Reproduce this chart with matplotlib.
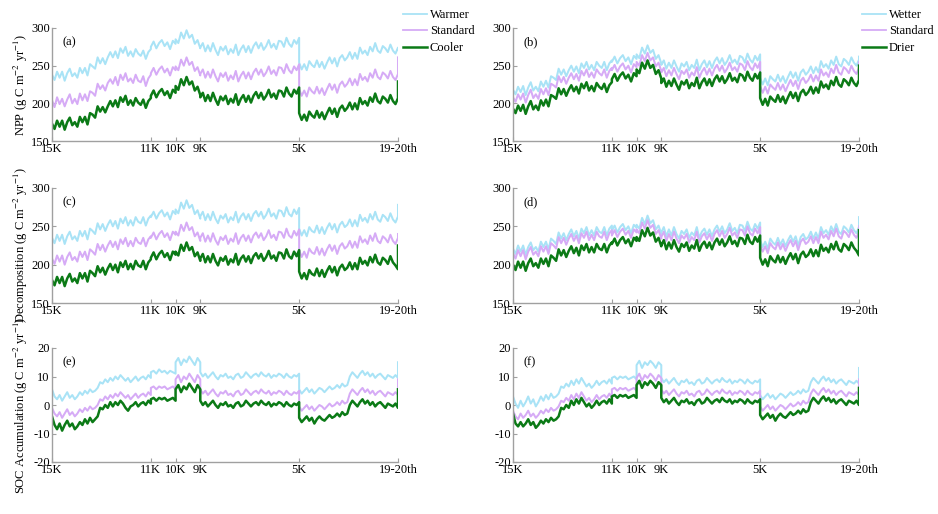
import numpy as np
import matplotlib
matplotlib.use("Agg")
import matplotlib.pyplot as plt
from matplotlib.lines import Line2D

plt.rcParams['font.family'] = ['Liberation Serif', 'DejaVu Serif']
plt.rcParams['mathtext.fontset'] = 'stix'
plt.rcParams['axes.unicode_minus'] = False

# ---------------- x axis structure ----------------
seg_edges = [0, 4, 5, 6, 10, 14]          # 15K, 11K, 10K, 9K, 5K, 19-20th
seg_npts = [40, 10, 10, 40, 40]
tick_pos = [0, 4, 5, 6, 10, 14]
tick_labels = ['15K', '11K', '10K', '9K', '5K', '19-20th']

# ---------------- (a) NPP, temperature ----------------
npp_warmer = [238, 231, 242, 234, 242, 230, 240, 246, 236, 240, 234, 247, 240, 247, 237, 252, 249, 246, 261, 253,
              260, 252, 261, 268, 261, 269, 260, 273, 267, 275, 263, 269, 262, 272, 266, 263, 270, 259, 268, 272,
              275, 282, 273, 280, 284, 276, 281, 272, 283, 279,
              285, 280, 294, 286, 297, 287, 291, 279, 284, 273,
              274, 280, 269, 277, 269, 280, 271, 264, 275, 270, 276, 265, 272, 267, 278, 264, 272, 277, 268, 276,
              267, 276, 281, 273, 280, 271, 276, 284, 274, 279, 272, 283, 282, 275, 287, 279, 275, 284, 279, 287,
              254, 245, 252, 244, 256, 251, 248, 257, 248, 255, 246, 254, 261, 253, 260, 249, 260, 264, 257, 261,
              268, 259, 267, 259, 274, 266, 270, 264, 275, 269, 280, 270, 267, 276, 273, 268, 278, 270, 266, 274,
              272]
npp_std_t = [204, 195, 208, 199, 206, 196, 205, 212, 200, 206, 199, 213, 204, 212, 203, 216, 214, 210, 226, 219,
             224, 217, 227, 232, 226, 235, 224, 238, 231, 240, 229, 233, 227, 238, 230, 228, 236, 223, 233, 238,
             240, 247, 238, 245, 249, 241, 246, 237, 248, 244,
             249, 244, 258, 250, 261, 251, 255, 243, 248, 237,
             239, 245, 234, 242, 234, 245, 236, 229, 240, 235, 241, 230, 237, 232, 243, 229, 237, 242, 233, 241,
             232, 241, 246, 238, 245, 236, 241, 249, 239, 244, 237, 248, 247, 240, 252, 244, 240, 249, 244, 252,
             219, 210, 217, 209, 221, 216, 213, 222, 213, 220, 211, 219, 226, 218, 225, 214, 225, 229, 222, 226,
             233, 224, 232, 224, 239, 231, 235, 229, 240, 234, 245, 235, 232, 241, 238, 233, 243, 235, 231, 239,
             261]
npp_cooler = [173, 166, 177, 169, 177, 165, 175, 181, 171, 175, 169, 182, 175, 182, 172, 187, 185, 181, 196, 189,
              195, 188, 196, 203, 196, 204, 195, 208, 202, 210, 198, 204, 197, 207, 201, 198, 205, 194, 203, 207,
              210, 217, 208, 215, 219, 211, 216, 207, 218, 214,
              223, 218, 232, 224, 235, 225, 229, 217, 222, 211,
              208, 214, 203, 211, 203, 214, 205, 198, 209, 204, 210, 199, 206, 201, 212, 198, 206, 211, 202, 210,
              201, 210, 215, 207, 214, 205, 210, 218, 208, 213, 206, 217, 216, 209, 221, 213, 209, 218, 213, 221,
              187, 178, 185, 177, 189, 184, 181, 190, 181, 188, 179, 187, 194, 186, 193, 182, 193, 197, 190, 194,
              201, 192, 200, 192, 207, 199, 203, 197, 208, 202, 213, 203, 200, 209, 206, 201, 211, 203, 199, 207,
              229]

# ---------------- (b) NPP, moisture ----------------
npp_wetter = [218, 212, 222, 215, 223, 211, 221, 228, 217, 222, 216, 229, 222, 230, 221, 236, 234, 231, 246, 238,
              245, 236, 244, 250, 242, 249, 240, 253, 247, 255, 245, 251, 244, 255, 250, 247, 255, 244, 253, 257,
              255, 262, 253, 260, 264, 256, 261, 252, 263, 259,
              265, 260, 274, 266, 277, 267, 271, 259, 264, 253,
              251, 257, 246, 254, 247, 257, 249, 242, 253, 249, 255, 244, 251, 247, 258, 244, 252, 257, 248, 256,
              247, 256, 261, 253, 260, 251, 256, 264, 254, 258, 252, 263, 261, 254, 266, 258, 254, 263, 257, 265,
              234, 225, 233, 224, 236, 232, 229, 238, 229, 236, 227, 235, 242, 234, 241, 230, 241, 245, 238, 242,
              249, 240, 248, 241, 256, 248, 252, 246, 257, 251, 262, 252, 249, 259, 256, 251, 261, 254, 250, 258,
              262]
npp_std_m = [208, 202, 212, 205, 213, 201, 211, 218, 207, 212, 206, 219, 212, 220, 211, 226, 224, 221, 236, 228,
             235, 226, 234, 240, 232, 239, 230, 243, 237, 245, 235, 241, 234, 245, 240, 237, 245, 234, 243, 247,
             244, 251, 242, 249, 253, 245, 250, 241, 252, 248,
             255, 250, 264, 256, 267, 257, 261, 249, 254, 243,
             241, 247, 236, 244, 237, 247, 239, 232, 243, 239, 245, 234, 241, 237, 248, 234, 242, 247, 238, 246,
             237, 246, 251, 243, 250, 241, 246, 254, 244, 248, 242, 253, 251, 244, 256, 248, 244, 253, 247, 255,
             223, 214, 222, 213, 225, 221, 218, 227, 218, 225, 216, 224, 231, 223, 230, 219, 230, 234, 227, 231,
             238, 229, 237, 230, 245, 237, 241, 235, 246, 240, 251, 241, 238, 248, 245, 240, 250, 243, 239, 247,
             255]
npp_drier = [193, 187, 197, 190, 198, 186, 196, 203, 192, 197, 191, 204, 197, 205, 196, 211, 209, 206, 220, 212,
             219, 210, 218, 224, 216, 222, 213, 226, 220, 228, 217, 223, 216, 227, 222, 219, 226, 215, 224, 228,
             232, 239, 230, 237, 241, 233, 238, 229, 240, 236,
             245, 240, 254, 246, 257, 247, 251, 239, 244, 233,
             227, 233, 222, 230, 223, 233, 225, 218, 229, 225, 231, 220, 227, 223, 234, 220, 228, 233, 224, 232,
             223, 232, 237, 229, 236, 227, 232, 240, 230, 234, 228, 239, 237, 230, 242, 234, 230, 239, 233, 241,
             207, 198, 206, 197, 209, 205, 202, 211, 202, 209, 200, 208, 215, 207, 214, 203, 214, 218, 211, 215,
             222, 213, 221, 214, 229, 221, 225, 219, 230, 224, 235, 225, 222, 232, 229, 224, 234, 227, 223, 231,
             250]

# ---------------- (c) Decomposition, temperature ----------------
dec_warmer = [235, 228, 239, 231, 239, 227, 237, 243, 233, 237, 231, 244, 237, 244, 233, 247, 244, 240, 254, 246,
              253, 244, 252, 258, 250, 257, 247, 260, 254, 262, 251, 258, 251, 262, 256, 254, 262, 251, 260, 264,
              262, 269, 260, 267, 271, 263, 268, 259, 270, 266,
              272, 267, 281, 273, 284, 274, 278, 266, 271, 260,
              263, 269, 258, 266, 258, 269, 260, 254, 264, 260, 266, 255, 262, 258, 269, 255, 263, 267, 259, 266,
              257, 266, 270, 263, 269, 260, 265, 273, 263, 267, 260, 271, 270, 263, 275, 266, 263, 272, 266, 274,
              247, 238, 245, 237, 249, 244, 242, 251, 241, 249, 240, 248, 254, 246, 253, 242, 252, 256, 249, 252,
              259, 250, 258, 250, 265, 257, 261, 255, 266, 259, 269, 259, 256, 265, 262, 257, 267, 259, 255, 263,
              278]
dec_std_t = [208, 201, 212, 204, 212, 200, 210, 216, 206, 210, 204, 217, 210, 217, 206, 220, 217, 213, 227, 219,
             226, 217, 225, 231, 223, 230, 220, 233, 227, 235, 224, 231, 224, 235, 229, 227, 235, 224, 233, 237,
             235, 242, 233, 240, 244, 236, 241, 232, 243, 239,
             243, 238, 252, 244, 255, 245, 249, 237, 242, 231,
             235, 241, 230, 238, 230, 241, 232, 226, 236, 232, 238, 227, 234, 230, 241, 227, 235, 239, 231, 238,
             229, 238, 242, 235, 241, 232, 237, 245, 235, 239, 232, 243, 242, 235, 247, 238, 235, 244, 238, 246,
             219, 210, 217, 209, 221, 216, 214, 223, 213, 221, 212, 220, 226, 218, 225, 214, 224, 228, 221, 224,
             231, 222, 230, 222, 237, 229, 233, 227, 238, 231, 241, 231, 228, 237, 234, 229, 239, 231, 227, 235,
             240]
dec_cooler = [180, 173, 184, 176, 184, 172, 182, 188, 178, 182, 176, 189, 182, 189, 178, 192, 189, 185, 198, 190,
              196, 187, 195, 201, 193, 200, 190, 203, 197, 205, 194, 201, 194, 205, 199, 197, 205, 194, 203, 207,
              209, 216, 207, 214, 218, 210, 215, 206, 217, 213,
              217, 212, 226, 218, 229, 219, 223, 211, 216, 205,
              208, 214, 203, 211, 203, 214, 205, 199, 209, 205, 211, 200, 207, 203, 214, 200, 208, 212, 204, 211,
              202, 211, 215, 208, 214, 205, 210, 218, 208, 212, 205, 216, 215, 208, 220, 211, 208, 217, 211, 219,
              191, 182, 189, 181, 193, 188, 186, 195, 185, 193, 184, 192, 198, 190, 197, 186, 196, 200, 193, 196,
              203, 194, 202, 194, 209, 201, 205, 199, 210, 203, 213, 203, 200, 209, 206, 201, 211, 203, 199, 194,
              225]

# ---------------- (d) Decomposition, moisture ----------------
dec_wetter = [221, 214, 225, 217, 225, 213, 223, 229, 219, 223, 217, 230, 223, 230, 220, 234, 231, 227, 242, 234,
              241, 232, 240, 246, 237, 244, 234, 247, 241, 249, 238, 245, 238, 249, 243, 241, 249, 238, 247, 251,
              244, 251, 242, 249, 253, 245, 250, 241, 252, 248,
              252, 247, 261, 253, 264, 254, 258, 246, 251, 240,
              242, 249, 237, 246, 238, 249, 240, 234, 244, 240, 246, 235, 242, 238, 249, 235, 243, 247, 239, 246,
              237, 246, 251, 243, 250, 241, 246, 254, 244, 248, 241, 252, 251, 244, 256, 247, 244, 253, 247, 255,
              232, 223, 230, 221, 234, 229, 226, 235, 226, 233, 224, 232, 238, 230, 237, 225, 236, 240, 233, 236,
              243, 234, 242, 234, 249, 241, 245, 239, 250, 243, 253, 243, 240, 250, 247, 242, 252, 245, 241, 249,
              262]
dec_std_m = [215, 208, 219, 211, 219, 207, 217, 223, 213, 217, 211, 224, 217, 224, 214, 228, 225, 221, 236, 228,
             235, 226, 234, 240, 231, 238, 228, 241, 235, 243, 232, 239, 232, 243, 237, 235, 243, 232, 241, 245,
             238, 245, 236, 243, 247, 239, 244, 235, 246, 242,
             246, 241, 255, 247, 258, 248, 252, 240, 245, 234,
             236, 243, 231, 240, 232, 243, 234, 228, 238, 234, 240, 229, 236, 232, 243, 229, 237, 241, 233, 240,
             231, 240, 245, 237, 244, 235, 240, 248, 238, 242, 235, 246, 245, 238, 250, 241, 238, 247, 241, 249,
             226, 217, 224, 215, 228, 223, 220, 229, 220, 227, 218, 226, 232, 224, 231, 219, 230, 234, 227, 230,
             237, 228, 236, 228, 243, 235, 239, 233, 244, 237, 247, 237, 234, 244, 241, 236, 246, 239, 235, 243,
             250]
dec_drier = [200, 193, 204, 196, 204, 192, 202, 208, 198, 202, 196, 208, 201, 208, 198, 212, 209, 205, 220, 212,
             219, 210, 218, 224, 215, 222, 212, 225, 219, 227, 216, 223, 216, 227, 221, 219, 227, 216, 225, 229,
             227, 234, 225, 232, 236, 228, 233, 224, 235, 231,
             236, 231, 245, 237, 248, 238, 242, 230, 235, 224,
             225, 232, 220, 229, 221, 232, 223, 217, 227, 223, 229, 218, 225, 221, 232, 218, 226, 230, 222, 229,
             220, 229, 234, 226, 233, 224, 229, 237, 227, 231, 224, 235, 234, 227, 239, 230, 227, 236, 230, 238,
             209, 200, 207, 198, 211, 206, 203, 212, 203, 210, 201, 209, 215, 207, 214, 202, 213, 217, 210, 213,
             220, 211, 219, 211, 226, 218, 222, 216, 227, 220, 230, 220, 217, 227, 224, 219, 229, 222, 218, 212,
             245]

# ---------------- (e) SOC accumulation, temperature ----------------
soc_warmer = [5.5, 3.0, 2.0, 3.5, 1.5, 3.0, 4.5, 2.5, 3.5, 2.0, 3.0, 4.5, 3.5, 5.0, 4.0, 5.5, 4.5, 5.0, 6.0, 8.0,
              7.5, 9.0, 8.0, 9.5, 8.5, 10.0, 9.0, 10.5, 9.5, 8.5, 9.5, 8.0, 9.0, 10.0, 8.5, 9.5, 10.0, 9.0, 10.5, 9.5,
              11.5, 12.0, 11.0, 12.5, 11.5, 12.0, 11.0, 12.0, 11.5, 11.0,
              15.0, 16.5, 14.0, 16.0, 15.0, 17.0, 15.5, 14.0, 16.5, 15.0,
              11.5, 10.0, 11.0, 9.5, 10.5, 11.5, 10.0, 9.0, 10.5, 10.0, 11.0, 9.5, 10.0, 9.0, 10.5, 11.0, 9.5, 10.0, 11.5, 10.5,
              9.5, 10.5, 11.0, 10.0, 11.5, 10.5, 10.0, 11.0, 9.5, 10.5, 10.0, 11.0, 10.5, 9.5, 11.0, 10.0, 9.5, 10.5, 10.0, 11.0,
              5.5, 4.0, 5.0, 6.0, 4.5, 5.5, 4.0, 5.0, 6.0, 5.5, 4.5, 5.5, 6.5, 5.5, 6.0, 7.0, 6.0, 7.5, 6.5, 7.0,
              10.0, 11.5, 10.5, 9.5, 11.0, 12.0, 10.5, 11.5, 10.0, 11.0, 9.5, 10.5, 11.0, 10.0, 9.0, 10.5, 10.0, 9.5, 10.5, 9.5,
              15.0]
soc_std_t = [-1.0, -3.0, -4.0, -2.5, -4.5, -3.0, -1.5, -3.5, -2.5, -4.0, -3.0, -1.5, -2.5, -1.0, -2.0, -0.5, -1.5, -1.0, 0.0, 2.0,
             1.5, 3.0, 2.0, 3.5, 2.5, 4.0, 3.0, 4.5, 3.5, 2.5, 3.5, 2.0, 3.0, 4.0, 2.5, 3.5, 4.0, 3.0, 4.5, 3.5,
             6.0, 6.5, 5.5, 6.5, 6.0, 6.5, 5.5, 6.0, 6.5, 5.5,
             9.0, 10.5, 8.0, 10.0, 9.0, 11.0, 9.5, 8.0, 10.5, 9.0,
             5.5, 4.0, 5.0, 3.5, 4.5, 5.5, 4.0, 3.0, 4.5, 4.0, 5.0, 3.5, 4.0, 3.0, 4.5, 5.0, 3.5, 4.0, 5.5, 4.5,
             3.5, 4.5, 5.0, 4.0, 5.5, 4.5, 4.0, 5.0, 3.5, 4.5, 4.0, 5.0, 4.5, 3.5, 5.0, 4.0, 3.5, 4.5, 4.0, 5.0,
             -0.5, -2.0, -1.0, 0.0, -1.5, -0.5, -2.0, -1.0, 0.0, -0.5, -1.5, -0.5, 0.5, -0.5, 0.0, 1.0, 0.0, 1.5, 0.5, 1.0,
             4.0, 5.5, 4.5, 3.5, 5.0, 6.0, 4.5, 5.5, 4.0, 5.0, 3.5, 4.5, 5.0, 4.0, 3.0, 4.5, 4.0, 3.5, 4.5, 3.5,
             9.0]
soc_cooler = [-4.0, -7.0, -8.5, -6.5, -9.0, -7.0, -5.5, -7.5, -6.5, -8.5, -7.5, -6.0, -7.0, -5.0, -6.5, -4.5, -6.0, -5.0, -4.0, -1.0,
              -1.5, 0.0, -1.0, 1.0, -0.5, 1.0, 0.0, 1.5, 0.5, -1.0, -2.0, -0.5, 0.0, 1.0, -0.5, 0.5, 1.0, 0.0, 1.5, 0.5,
              2.0, 2.5, 1.5, 2.5, 2.0, 2.5, 1.5, 2.0, 2.5, 1.5,
              5.5, 7.0, 4.5, 6.5, 5.5, 7.5, 6.0, 4.5, 7.0, 5.5,
              1.5, 0.0, 1.0, -0.5, 0.5, 1.5, 0.0, -1.0, 0.5, 0.0, 1.0, -0.5, 0.0, -1.0, 0.5, 1.0, -0.5, 0.0, 1.5, 0.5,
              -0.5, 0.5, 1.0, 0.0, 1.5, 0.5, 0.0, 1.0, -0.5, 0.5, 0.0, 1.0, 0.5, -0.5, 1.0, 0.0, -0.5, 0.5, 0.0, 1.0,
              -4.5, -6.0, -5.0, -4.0, -5.5, -4.5, -6.5, -5.0, -4.0, -5.0, -5.5, -4.5, -3.5, -4.5, -4.0, -3.0, -4.0, -2.5, -3.5, -3.0,
              0.0, 1.5, 0.5, -0.5, 1.0, 2.0, 0.5, 1.5, 0.0, 1.0, -0.5, 0.5, 1.0, 0.0, -1.0, 0.5, 0.0, -0.5, 0.5, -1.0,
              5.5]

# ---------------- (f) SOC accumulation, moisture ----------------
soc_wetter = [3.0, 0.5, -1.0, 1.5, -0.5, 1.0, 3.0, 0.5, 2.0, -0.5, 1.0, 3.0, 1.5, 3.5, 2.0, 4.0, 2.5, 3.0, 4.0, 6.5,
              6.0, 7.5, 6.5, 8.5, 7.0, 9.0, 7.5, 9.5, 8.0, 6.5, 7.5, 6.0, 7.0, 8.5, 7.0, 8.0, 8.5, 7.5, 9.0, 7.5,
              9.5, 10.0, 9.0, 10.0, 9.5, 10.0, 9.0, 9.5, 10.0, 9.0,
              14.0, 15.5, 13.0, 15.0, 14.0, 15.5, 14.5, 13.0, 15.0, 14.0,
              9.5, 8.0, 9.0, 7.5, 8.5, 9.5, 8.0, 7.0, 8.5, 8.0, 9.0, 7.5, 8.0, 7.0, 8.5, 9.0, 7.5, 8.0, 9.5, 8.5,
              7.5, 8.5, 9.0, 8.0, 9.5, 8.5, 8.0, 9.0, 7.5, 8.5, 8.0, 9.0, 8.5, 7.5, 9.0, 8.0, 7.5, 8.5, 8.0, 9.0,
              3.5, 2.0, 3.0, 4.0, 2.5, 3.5, 2.0, 3.0, 4.0, 3.5, 2.5, 3.5, 4.5, 3.5, 4.0, 5.0, 4.0, 5.5, 4.5, 5.0,
              8.0, 9.5, 8.5, 7.5, 9.0, 10.0, 8.5, 9.5, 8.0, 9.0, 7.5, 8.5, 9.0, 8.0, 7.0, 8.5, 8.0, 7.5, 8.5, 7.5,
              13.0]
soc_std_m = [-2.0, -4.0, -5.0, -3.0, -4.5, -3.5, -2.0, -4.0, -3.0, -4.5, -3.5, -2.0, -3.0, -1.5, -2.5, -1.0, -2.0, -1.5, -0.5, 1.5,
             1.0, 2.5, 1.5, 3.5, 2.0, 4.0, 2.5, 4.5, 3.0, 1.5, 2.5, 1.0, 2.0, 3.5, 2.0, 3.0, 3.5, 2.5, 4.0, 2.5,
             5.5, 6.0, 5.0, 6.0, 5.5, 6.0, 5.0, 5.5, 6.0, 5.0,
             9.5, 11.0, 8.5, 10.5, 9.5, 11.0, 10.0, 8.5, 10.5, 9.5,
             5.5, 4.0, 5.0, 3.5, 4.5, 5.5, 4.0, 3.0, 4.5, 4.0, 5.0, 3.5, 4.0, 3.0, 4.5, 5.0, 3.5, 4.0, 5.5, 4.5,
             3.5, 4.5, 5.0, 4.0, 5.5, 4.5, 4.0, 5.0, 3.5, 4.5, 4.0, 5.0, 4.5, 3.5, 5.0, 4.0, 3.5, 4.5, 4.0, 5.0,
             -0.5, -2.0, -1.0, 0.0, -1.5, -0.5, -2.0, -1.0, 0.0, -0.5, -1.5, -0.5, 0.5, -0.5, 0.0, 1.0, 0.0, 1.5, 0.5, 1.0,
             4.0, 5.5, 4.5, 3.5, 5.0, 6.0, 4.5, 5.5, 4.0, 5.0, 3.5, 4.5, 5.0, 4.0, 3.0, 4.5, 4.0, 3.5, 4.5, 3.5,
             9.0]
soc_drier = [-3.0, -6.5, -7.5, -6.0, -7.5, -6.5, -5.0, -7.0, -6.0, -8.0, -7.0, -5.5, -6.5, -5.0, -6.0, -4.5, -5.5, -5.0, -4.0, -1.0,
             -1.5, 0.0, -1.0, 1.5, 0.0, 2.0, 0.5, 2.5, 1.0, -0.5, 0.5, -1.0, 0.0, 1.5, 0.0, 1.0, 1.5, 0.5, 2.0, 0.5,
             3.0, 3.5, 2.5, 3.5, 3.0, 3.5, 2.5, 3.0, 3.5, 2.5,
             7.0, 8.5, 6.0, 8.0, 7.0, 8.5, 7.5, 6.0, 8.0, 7.0,
             2.5, 1.0, 2.0, 0.5, 1.5, 2.5, 1.0, 0.0, 1.5, 1.0, 2.0, 0.5, 1.0, 0.0, 1.5, 2.0, 0.5, 1.0, 2.5, 1.5,
             0.5, 1.5, 2.0, 1.0, 2.5, 1.5, 1.0, 2.0, 0.5, 1.5, 1.0, 2.0, 1.5, 0.5, 2.0, 1.0, 0.5, 1.5, 1.0, 2.0,
             -3.5, -5.0, -4.0, -3.0, -4.5, -3.5, -5.5, -4.0, -3.0, -4.0, -4.5, -3.5, -2.5, -3.5, -3.0, -2.0, -3.0, -1.5, -2.5, -2.0,
             1.0, 2.5, 1.5, 0.5, 2.0, 3.0, 1.5, 2.5, 1.0, 2.0, 0.5, 1.5, 2.0, 1.0, 0.0, 1.5, 1.0, 0.5, 1.5, 0.0,
             6.0]

# ---------------- styling ----------------
c_hi = '#a9e3f6'
c_std = '#d6abf6'
c_lo = '#0b7a16'
spine_c = '#a0a0a0'

xs = []
for i, n in enumerate(seg_npts):
    xs.append(np.linspace(seg_edges[i], seg_edges[i + 1], n))
xs.append([seg_edges[-1]])
x = np.concatenate(xs)

fig = plt.figure(figsize=(9.38, 5.14), dpi=100)
W, H = 938.0, 514.0
col_x = [52, 513]
ax_w = 346
rows = [(28, 141), (188, 303), (348, 462)]

panels = [
    ('(a)', (npp_warmer, npp_std_t, npp_cooler), (150, 300), [150, 200, 250, 300]),
    ('(b)', (npp_wetter, npp_std_m, npp_drier), (150, 300), [150, 200, 250, 300]),
    ('(c)', (dec_warmer, dec_std_t, dec_cooler), (150, 300), [150, 200, 250, 300]),
    ('(d)', (dec_wetter, dec_std_m, dec_drier), (150, 300), [150, 200, 250, 300]),
    ('(e)', (soc_warmer, soc_std_t, soc_cooler), (-20, 20), [-20, -10, 0, 10, 20]),
    ('(f)', (soc_wetter, soc_std_m, soc_drier), (-20, 20), [-20, -10, 0, 10, 20]),
]
ylabels = ['NPP (g C m$^{-2}$ yr$^{-1}$)',
           'Decomposition (g C m$^{-2}$ yr$^{-1}$)',
           'SOC Accumulation (g C m$^{-2}$ yr$^{-1}$)']

fs = 9
for k, (lab, series, ylim, yt) in enumerate(panels):
    r, c = divmod(k, 2)
    top, bot = rows[r]
    ax = fig.add_axes([col_x[c] / W, 1 - bot / H, ax_w / W, (bot - top) / H])
    for s, col, lw in zip(series, (c_hi, c_std, c_lo), (1.45, 1.45, 1.8)):
        assert len(s) == len(x), (lab, len(s))
        ax.plot(x, s, color=col, lw=lw)
    ax.set_xlim(0, 14)
    ax.set_ylim(*ylim)
    ax.set_yticks(yt)
    ax.set_xticks(tick_pos)
    ax.set_xticklabels(tick_labels)
    for sp in ('top', 'right'):
        ax.spines[sp].set_visible(False)
    for sp in ('left', 'bottom'):
        ax.spines[sp].set_color(spine_c)
        ax.spines[sp].set_linewidth(1.0)
    ax.tick_params(axis='both', direction='in', color=spine_c, labelsize=fs,
                   length=3, width=0.8)
    ax.tick_params(axis='x', pad=1.5)
    ax.tick_params(axis='y', pad=1.5)
    ax.text(0.03, 0.875, lab, transform=ax.transAxes, fontsize=fs,
            ha='left', va='center')
    if c == 0:
        ax.set_ylabel(ylabels[r], fontsize=fs)
        ax.yaxis.set_label_coords(-0.065, 0.5)


def make_legend(labels, xpos):
    handles = [Line2D([], [], color=c_hi, lw=1.3),
               Line2D([], [], color=c_std, lw=1.3),
               Line2D([], [], color=c_lo, lw=1.8)]
    fig.legend(handles, labels, loc='upper left',
               bbox_to_anchor=(xpos / W, 1 - 9 / H), frameon=False,
               fontsize=fs, handlelength=1.9, handletextpad=0.25,
               labelspacing=0.36, borderpad=0, borderaxespad=0)


make_legend(['Warmer', 'Standard', 'Cooler'], 403)
make_legend(['Wetter', 'Standard', 'Drier'], 862)

fig.savefig('out.png', dpi=100)
